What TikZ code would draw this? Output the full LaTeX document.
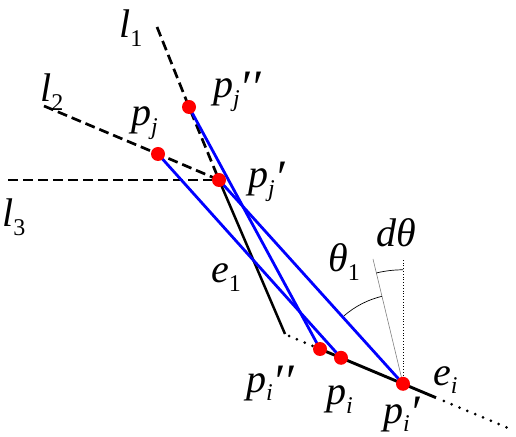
\documentclass[tikz,border=0pt]{standalone}
\usepackage{fontspec}
\setmainfont{Liberation Serif}
\usetikzlibrary{calc}
\newcommand\lb[3]{#1\raisebox{-0.22em}{\fontsize{24}{24}\selectfont #2}#3}
\newcommand\pr{\smash{\raisebox{-0.14em}{\fontsize{48}{48}\selectfont\char"2032}}}
\begin{document}
\begin{tikzpicture}[x=1pt,y=1pt,
  dot/.style={circle,fill=red,inner sep=0pt,minimum size=14pt},
  dashline/.style={line width=2.7pt,dash pattern=on 10pt off 5pt},
  blueline/.style={draw=blue,line width=2.8pt},
  solidline/.style={line width=2.9pt},
  dotline/.style={line width=3pt,line cap=round,dash pattern=on 0pt off 8.5pt},
  lab/.style={anchor=base west,inner sep=0pt,font=\fontsize{40}{46}\selectfont\itshape}]
\useasboundingbox (0,0) rectangle (516,436);
% points
\coordinate (L1s) at (157,409);
\coordinate (L2s) at (44,330);
\coordinate (L3s) at (8,256);
\coordinate (pjpp) at (189,329);
\coordinate (pj) at (158,282);
\coordinate (pjp) at (219,256);
\coordinate (E1) at (285,102);
\coordinate (A) at (289,100);
\coordinate (pipp) at (320,87);
\coordinate (pi) at (341,78.2);
\coordinate (pip) at (403,52.2);
\coordinate (S) at (436,38.3);
\coordinate (D) at (512,6.4);
\coordinate (V) at (403,176);
\coordinate (G) at (373,177);
% dashed lines
\draw[dashline] (L1s) -- (pjpp) -- (pjp);
\draw[dashline] (L2s) -- (pj) -- (pjp);
\draw[dashline] (L3s) -- (pjp);
% e1
\draw[line width=2.5pt] (pjp) -- (E1);
% ei
\draw[dotline] (A) -- (pipp);
\draw[solidline] (pipp) -- (S);
\draw[dotline] ($(S)!8.5pt!(D)$) -- (D);
% angle lines
\draw[line width=0.8pt,dotted] (pip) -- (V);
\draw[line width=0.6pt,gray] (pip) -- (G);
\draw[line width=0.7pt] ([shift={(103.5:90)}]pip) arc[start angle=103.5,end angle=131,radius=90];
\draw[line width=0.7pt] ([shift={(90:114)}]pip) arc[start angle=90,end angle=103.5,radius=114];
% blue
\draw[blueline] (pjpp) -- (pipp);
\draw[blueline] (pj) -- (pi);
\draw[blueline] (pjp) -- (pip);
% dots
\foreach \p in {pjpp,pj,pjp,pipp,pi,pip} \node[dot] (d\p) at (\p) {};
% labels
\node[lab] (tl1) at (119,398) {\lb{l}{\upshape 1}{}};
\node[lab] (tl2) at (40,334) {\lb{l}{\upshape 2}{}};
\node[lab] (tl3) at (2,209) {\lb{l}{\upshape 3}{}};
\node[lab] (tpj) at (131,310) {\lb{p}{j}{}};
\node[lab] (tpjpp) at (213,338) {\lb{p}{j}{\pr\pr}};
\node[lab] (tpjp) at (248,248) {\lb{p}{j}{\pr}};
\node[lab] (te1) at (211,153) {\lb{e}{\upshape 1}{}};
\node[lab] (tth) at (328,164) {\lb{θ}{\upshape 1}{}};
\node[lab] (tdth) at (376,189) {dθ};
\node[lab] (tei) at (433,51) {\lb{e}{i}{}};
\node[lab] (tpipp) at (246,44) {\lb{p}{i}{\pr\pr}};
\node[lab] (tpi) at (326,31) {\lb{p}{i}{}};
\node[lab] (tpip) at (383,13) {\lb{p}{i}{\pr}};
\end{tikzpicture}
\end{document}
